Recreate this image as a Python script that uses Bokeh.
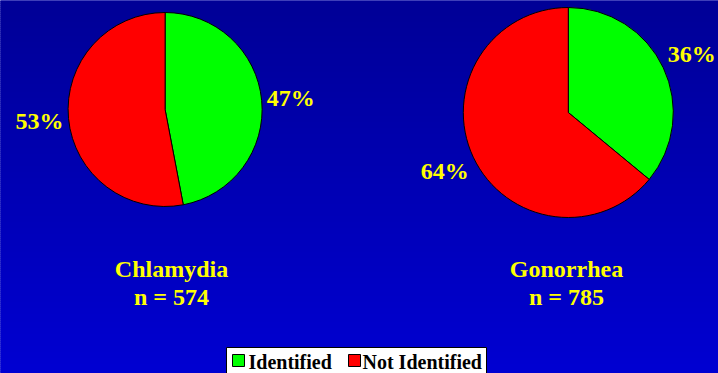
import numpy as np
from bokeh.plotting import figure
from bokeh.models import Range1d, ColumnDataSource
from bokeh.core.properties import value
from bokeh.embed import file_html
from bokeh.resources import INLINE

# --- data -------------------------------------------------------------
diseases = ["Chlamydia", "Gonorrhea"]
sample_sizes = [574, 785]
categories = ["Identified", "Not Identified"]
identified_pct = [47, 36]
not_identified_pct = [53, 64]
category_colors = ["#00ff00", "#ff0000"]

# --- layout (pixels, y measured from the bottom) -----------------------
W, H = 718, 373
pie_centers_x = [164.6, 567.8]
pie_centers_y = [H - 109, H - 112]
pie_radii = [97, 105]
caption_x = [171, 566]
label_font = value("Liberation Serif")
yellow = "#ffff00"

p = figure(width=W, height=H, x_range=Range1d(0, W), y_range=Range1d(0, H),
           output_backend="svg", toolbar_location=None,
           x_axis_type=None, y_axis_type=None,
           min_border=0, min_border_left=0, min_border_right=0,
           min_border_top=0, min_border_bottom=0)
p.grid.visible = False
p.outline_line_color = None
p.background_fill_color = "#0000bb"
p.border_fill_color = "#0000bb"

# vertical blue gradient backdrop
band = 2
band_bottoms = np.arange(0, H, band)
top_rgb = np.array([0, 0, 150])
bot_rgb = np.array([0, 0, 210])
band_colors = []
for b in band_bottoms:
    t = (b + band / 2) / H  # 0 at bottom, 1 at top
    c = bot_rgb + (top_rgb - bot_rgb) * t
    band_colors.append("#%02x%02x%02x" % tuple(int(round(v)) for v in c))
p.quad(left=0, right=W, bottom=band_bottoms, top=band_bottoms + band,
       fill_color=band_colors, line_color=band_colors, line_width=1)

# pies
series = [identified_pct, not_identified_pct]
for k, name in enumerate(diseases):
    vals = np.array([s[k] for s in series], dtype=float)
    frac = vals / vals.sum()
    cum = np.concatenate([[0], np.cumsum(frac)])
    starts = np.pi / 2 - 2 * np.pi * cum[:-1]
    ends = np.pi / 2 - 2 * np.pi * cum[1:]
    src = ColumnDataSource(dict(start=starts, end=ends, color=category_colors))
    p.wedge(x=pie_centers_x[k], y=pie_centers_y[k], radius=pie_radii[k],
            start_angle="start", end_angle="end", direction="clock",
            fill_color="color", line_color="black", line_width=1, source=src)

    # percentage labels outside each slice, at the slice's mid-angle
    mid = 2 * np.pi * (cum[:-1] + cum[1:]) / 2
    lr = pie_radii[k] * 1.3
    lx = pie_centers_x[k] + lr * np.sin(mid)
    ly = pie_centers_y[k] + lr * np.cos(mid)
    texts = ["%d%%" % v for v in vals]
    p.text(x=lx, y=ly, text=texts, text_align="center", text_baseline="middle",
           text_font=label_font, text_font_style="bold", text_font_size="24px",
           text_color=yellow)

    # caption under each pie
    p.text(x=[caption_x[k], caption_x[k]], y=[H - 268, H - 296],
           text=[name, "n = %d" % sample_sizes[k]],
           text_align="center", text_baseline="middle",
           text_font=label_font, text_font_style="bold", text_font_size="24px",
           text_color=yellow)

# legend box
p.quad(left=226, right=486, bottom=-5, top=H - 347, fill_color="white",
       line_color="black", line_width=1)
legend_sq_x = [238, 354]
legend_txt_x = [248, 362]
p.rect(x=legend_sq_x, y=H - 360, width=12, height=12, fill_color=category_colors,
       line_color="black", line_width=1)
p.text(x=legend_txt_x, y=H - 361, text=categories, text_align="left",
       text_baseline="middle", text_font=label_font, text_font_style="bold",
       text_font_size="20px", text_color="black")

open("out.html", "w").write(file_html(p, INLINE))
